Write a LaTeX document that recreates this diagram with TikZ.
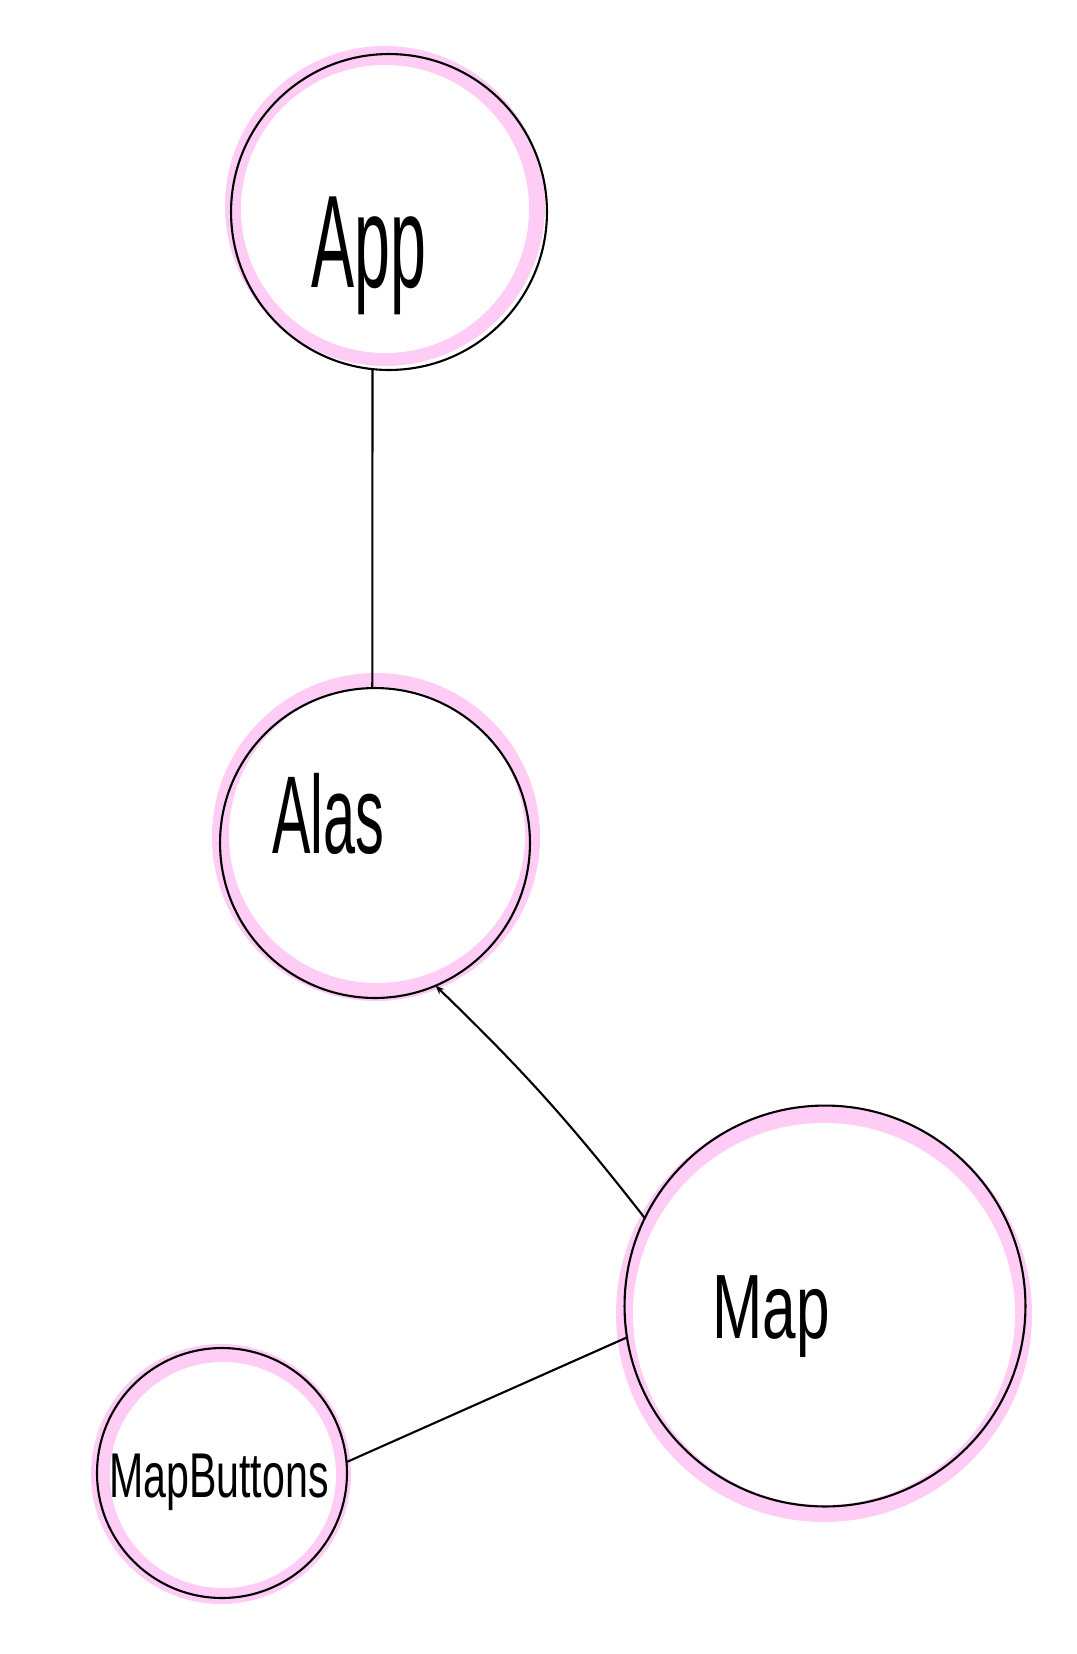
\documentclass[tikz,border=0pt]{standalone}
\usepackage{fontspec}
\setmainfont{Liberation Sans}
\usepackage{graphicx}
\usetikzlibrary{arrows.meta}
\definecolor{blush}{HTML}{FFCCF6}

\newcommand{\scrawl}[3]{\fontsize{#1}{#1}\selectfont\scalebox{#2}[1]{#3}}

\begin{document}
\begin{tikzpicture}[x=0.02cm, y=-0.02cm,
  bubble/.style={circle, draw, line width=1.2pt, inner sep=0pt, outer sep=0pt},
  word/.style={anchor=base, inner sep=0pt},
  link/.style={line width=1.2pt}]
  \useasboundingbox (0,0) rectangle (1076,1654);

  % App
  \fill[blush] (385,206) circle (160);
  \fill[white] (385,209) circle (144);
  \node[bubble, minimum size=6.32cm] (app) at (389,212) {};
  \node[word] (applbl) at (369,287) {\scrawl{75pt}{0.49}{App}};

  % Alas
  \fill[blush] (376,837) circle (164);
  \fill[white] (377,835) circle (148);
  \node[bubble, minimum size=6.2cm] (alas) at (375,843) {};
  \node[word] (alaslbl) at (328,853) {\scrawl{63pt}{0.52}{Alas}};

  % Map
  \fill[blush] (824,1314) circle (208);
  \fill[white] (824,1314) circle (191);
  \node[bubble, minimum size=8.02cm] (map) at (825,1306) {};
  \node[word] (maplbl) at (771,1338) {\scrawl{52pt}{0.66}{Map}};

  % MapButtons
  \fill[blush] (221,1474) circle (130);
  \fill[white] (223,1475) circle (113);
  \node[bubble, minimum size=5cm] (mapbtn) at (222,1473) {};
  \node[word] (mapbtnlbl) at (219,1497) {\scrawl{36pt}{0.65}{MapButtons}};

  % connectors
  \draw[link] (app.-96) -- (alas.91);
  \draw[link, -{Stealth[length=5pt, width=4pt]}] (map.154) to[bend right=4] (alas.-67);
  \draw[link] (map.-171) -- (mapbtn.5);
\end{tikzpicture}
\end{document}
